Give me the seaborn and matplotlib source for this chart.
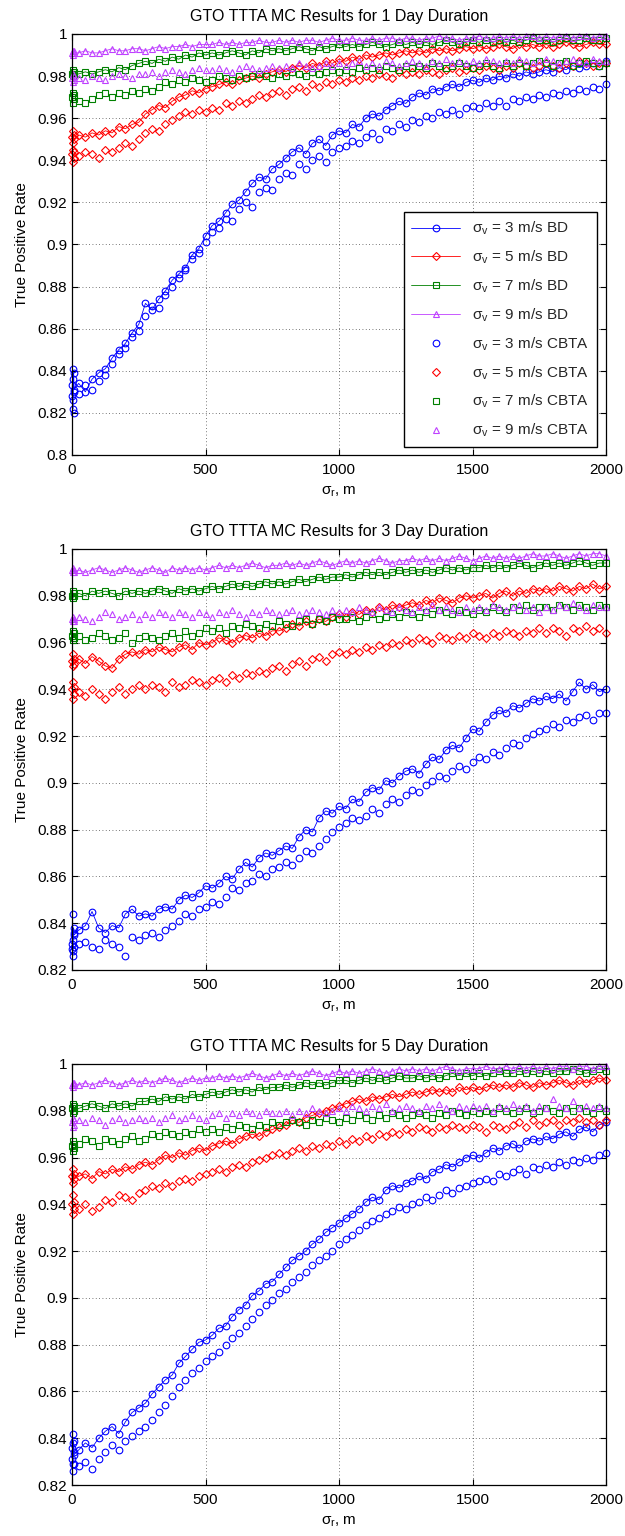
import matplotlib
matplotlib.use('Agg')
import matplotlib.pyplot as plt
from matplotlib.ticker import FuncFormatter
import seaborn as sns

# sigma_r grid: a few runs right at zero, then every 25 m
sigma_r = [0, 2, 4, 6, 8] + list(range(25, 2001, 25))

# ---------------- 1 day ----------------
day1_bd_3 = [0.828, 0.836, 0.822, 0.839, 0.831,
             0.834, 0.830, 0.836, 0.839, 0.841, 0.846, 0.850, 0.853, 0.858, 0.862,
             0.872, 0.869, 0.874, 0.878, 0.883, 0.886, 0.889, 0.895, 0.898, 0.904,
             0.909, 0.911, 0.915, 0.919, 0.921, 0.925, 0.929, 0.932, 0.931, 0.936,
             0.938, 0.941, 0.944, 0.946, 0.943, 0.948, 0.950, 0.947, 0.952, 0.954,
             0.953, 0.957, 0.956, 0.960, 0.962, 0.961, 0.964, 0.966, 0.968, 0.967,
             0.970, 0.972, 0.971, 0.974, 0.973, 0.975, 0.976, 0.975, 0.977, 0.978,
             0.977, 0.979, 0.978, 0.980, 0.979, 0.981, 0.980, 0.982, 0.981, 0.982,
             0.983, 0.982, 0.984, 0.983, 0.985, 0.984, 0.985, 0.986, 0.985, 0.987]
day1_bd_5 = [0.951, 0.954, 0.948, 0.952, 0.950,
             0.952, 0.951, 0.953, 0.952, 0.954, 0.953, 0.956, 0.955, 0.957, 0.958,
             0.962, 0.964, 0.966, 0.965, 0.968, 0.970, 0.971, 0.973, 0.972, 0.974,
             0.975, 0.976, 0.977, 0.976, 0.978, 0.979, 0.980, 0.979, 0.981, 0.982,
             0.983, 0.982, 0.984, 0.985, 0.984, 0.986, 0.985, 0.987, 0.986, 0.988,
             0.987, 0.989, 0.988, 0.990, 0.989, 0.990, 0.991, 0.990, 0.991, 0.992,
             0.991, 0.992, 0.991, 0.993, 0.992, 0.993, 0.992, 0.993, 0.994, 0.993,
             0.994, 0.993, 0.994, 0.995, 0.994, 0.993, 0.995, 0.994, 0.995, 0.994,
             0.995, 0.994, 0.995, 0.996, 0.995, 0.994, 0.995, 0.996, 0.995, 0.995]
day1_bd_7 = [0.981, 0.983, 0.980, 0.982, 0.981,
             0.981, 0.982, 0.981, 0.982, 0.983, 0.982, 0.984, 0.983, 0.985, 0.986,
             0.987, 0.986, 0.988, 0.987, 0.989, 0.988, 0.990, 0.989, 0.991, 0.990,
             0.991, 0.990, 0.991, 0.992, 0.991, 0.990, 0.992, 0.991, 0.993, 0.992,
             0.993, 0.992, 0.993, 0.994, 0.993, 0.992, 0.994, 0.993, 0.994, 0.995,
             0.994, 0.995, 0.994, 0.995, 0.996, 0.995, 0.994, 0.995, 0.996, 0.995,
             0.996, 0.995, 0.996, 0.995, 0.996, 0.997, 0.996, 0.995, 0.996, 0.997,
             0.996, 0.997, 0.996, 0.997, 0.996, 0.997, 0.996, 0.997, 0.998, 0.997,
             0.997, 0.996, 0.997, 0.998, 0.997, 0.997, 0.998, 0.997, 0.997, 0.998]
day1_bd_9 = [0.991, 0.992, 0.990, 0.992, 0.991,
             0.991, 0.992, 0.991, 0.991, 0.992, 0.993, 0.992, 0.992, 0.993, 0.993,
             0.992, 0.993, 0.994, 0.993, 0.994, 0.994, 0.995, 0.994, 0.995, 0.995,
             0.995, 0.996, 0.995, 0.996, 0.995, 0.996, 0.996, 0.997, 0.996, 0.996,
             0.997, 0.996, 0.997, 0.996, 0.997, 0.997, 0.996, 0.997, 0.998, 0.997,
             0.997, 0.998, 0.997, 0.997, 0.998, 0.997, 0.998, 0.998, 0.997, 0.998,
             0.998, 0.997, 0.998, 0.998, 0.999, 0.998, 0.998, 0.997, 0.998, 0.998,
             0.999, 0.998, 0.998, 0.999, 0.998, 0.999, 0.998, 0.999, 0.999, 0.998,
             0.999, 0.998, 0.999, 0.999, 0.998, 0.999, 0.999, 0.998, 0.999, 0.999]
day1_cbta_3 = [0.833, 0.826, 0.841, 0.820, 0.830,
               0.829, 0.833, 0.831, 0.835, 0.838, 0.843, 0.848, 0.851, 0.856, 0.859,
               0.866, 0.871, 0.870, 0.876, 0.880, 0.884, 0.888, 0.893, 0.896, 0.901,
               0.906, 0.908, 0.912, 0.911, 0.917, 0.920, 0.918, 0.925, 0.927, 0.926,
               0.931, 0.934, 0.933, 0.938, 0.936, 0.940, 0.942, 0.939, 0.944, 0.946,
               0.947, 0.949, 0.948, 0.951, 0.953, 0.950, 0.955, 0.954, 0.957, 0.956,
               0.959, 0.958, 0.961, 0.960, 0.963, 0.962, 0.964, 0.962, 0.965, 0.966,
               0.965, 0.967, 0.966, 0.968, 0.966, 0.969, 0.968, 0.970, 0.969, 0.971,
               0.970, 0.972, 0.971, 0.973, 0.972, 0.974, 0.973, 0.975, 0.974, 0.976]
day1_cbta_5 = [0.943, 0.939, 0.945, 0.941, 0.944,
               0.942, 0.944, 0.943, 0.941, 0.945, 0.944, 0.946, 0.948, 0.947, 0.950,
               0.953, 0.955, 0.954, 0.957, 0.959, 0.961, 0.963, 0.962, 0.964, 0.963,
               0.965, 0.964, 0.967, 0.966, 0.968, 0.967, 0.969, 0.971, 0.970, 0.972,
               0.973, 0.971, 0.974, 0.975, 0.973, 0.976, 0.975, 0.977, 0.976, 0.978,
               0.977, 0.979, 0.978, 0.980, 0.979, 0.981, 0.980, 0.979, 0.982, 0.981,
               0.982, 0.981, 0.983, 0.982, 0.981, 0.983, 0.984, 0.982, 0.983, 0.984,
               0.983, 0.985, 0.984, 0.983, 0.985, 0.984, 0.986, 0.985, 0.984, 0.985,
               0.986, 0.985, 0.984, 0.986, 0.985, 0.987, 0.986, 0.985, 0.986, 0.986]
day1_cbta_7 = [0.970, 0.967, 0.972, 0.969, 0.971,
               0.968, 0.967, 0.969, 0.971, 0.972, 0.970, 0.972, 0.971, 0.973, 0.972,
               0.974, 0.973, 0.975, 0.977, 0.976, 0.978, 0.977, 0.979, 0.978, 0.977,
               0.978, 0.980, 0.979, 0.978, 0.980, 0.979, 0.980, 0.981, 0.980, 0.979,
               0.981, 0.980, 0.982, 0.981, 0.980, 0.982, 0.981, 0.982, 0.983, 0.982,
               0.983, 0.982, 0.984, 0.983, 0.984, 0.983, 0.985, 0.984, 0.983, 0.985,
               0.984, 0.985, 0.984, 0.986, 0.985, 0.984, 0.985, 0.986, 0.985, 0.984,
               0.985, 0.986, 0.985, 0.984, 0.986, 0.985, 0.986, 0.985, 0.986, 0.987,
               0.986, 0.985, 0.986, 0.987, 0.985, 0.986, 0.987, 0.986, 0.985, 0.986]
day1_cbta_9 = [0.979, 0.981, 0.977, 0.980, 0.978,
               0.979, 0.978, 0.980, 0.979, 0.978, 0.980, 0.981, 0.980, 0.979, 0.981,
               0.981, 0.982, 0.980, 0.982, 0.983, 0.982, 0.981, 0.983, 0.984, 0.983,
               0.983, 0.984, 0.983, 0.982, 0.984, 0.985, 0.984, 0.983, 0.984, 0.985,
               0.984, 0.985, 0.984, 0.986, 0.985, 0.984, 0.985, 0.986, 0.985, 0.986,
               0.985, 0.986, 0.987, 0.985, 0.986, 0.985, 0.987, 0.986, 0.985, 0.986,
               0.987, 0.986, 0.985, 0.987, 0.986, 0.988, 0.986, 0.987, 0.986, 0.987,
               0.986, 0.988, 0.987, 0.986, 0.987, 0.986, 0.988, 0.987, 0.986, 0.987,
               0.988, 0.987, 0.986, 0.987, 0.988, 0.987, 0.986, 0.988, 0.987, 0.987]

# ---------------- 3 day ----------------
day3_bd_3 = [0.831, 0.844, 0.828, 0.838, 0.835,
             0.837, 0.839, 0.845, 0.838, 0.836, 0.839, 0.838, 0.844, 0.846, 0.843,
             0.844, 0.843, 0.846, 0.847, 0.846, 0.850, 0.852, 0.851, 0.853, 0.856,
             0.855, 0.857, 0.860, 0.859, 0.863, 0.866, 0.864, 0.868, 0.870, 0.869,
             0.871, 0.873, 0.872, 0.877, 0.880, 0.879, 0.885, 0.888, 0.887, 0.890,
             0.889, 0.893, 0.892, 0.896, 0.898, 0.897, 0.901, 0.900, 0.903, 0.905,
             0.906, 0.904, 0.908, 0.911, 0.910, 0.914, 0.916, 0.915, 0.919, 0.923,
             0.922, 0.926, 0.929, 0.931, 0.930, 0.933, 0.932, 0.934, 0.936, 0.935,
             0.937, 0.936, 0.938, 0.935, 0.939, 0.943, 0.940, 0.942, 0.939, 0.940]
day3_bd_5 = [0.952, 0.955, 0.950, 0.953, 0.951,
             0.953, 0.951, 0.954, 0.952, 0.950, 0.949, 0.953, 0.955, 0.956, 0.955,
             0.957, 0.956, 0.958, 0.957, 0.956, 0.958, 0.959, 0.957, 0.960, 0.959,
             0.960, 0.962, 0.961, 0.960, 0.962, 0.963, 0.962, 0.964, 0.963, 0.965,
             0.965, 0.966, 0.968, 0.967, 0.969, 0.968, 0.970, 0.969, 0.971, 0.972,
             0.971, 0.973, 0.972, 0.974, 0.973, 0.975, 0.974, 0.976, 0.975, 0.976,
             0.977, 0.976, 0.978, 0.977, 0.979, 0.978, 0.977, 0.979, 0.980, 0.979,
             0.980, 0.981, 0.979, 0.981, 0.982, 0.980, 0.982, 0.981, 0.983, 0.982,
             0.983, 0.982, 0.984, 0.983, 0.982, 0.984, 0.983, 0.985, 0.983, 0.984]
day3_bd_7 = [0.980, 0.982, 0.979, 0.981, 0.980,
             0.981, 0.980, 0.982, 0.981, 0.982, 0.981, 0.980, 0.982, 0.981, 0.982,
             0.981, 0.982, 0.983, 0.982, 0.981, 0.983, 0.982, 0.983, 0.982, 0.983,
             0.984, 0.983, 0.984, 0.985, 0.984, 0.985, 0.984, 0.985, 0.986, 0.985,
             0.986, 0.985, 0.986, 0.987, 0.986, 0.987, 0.988, 0.987, 0.988, 0.988,
             0.989, 0.988, 0.989, 0.990, 0.989, 0.990, 0.989, 0.990, 0.991, 0.990,
             0.991, 0.990, 0.991, 0.990, 0.991, 0.992, 0.991, 0.992, 0.991, 0.992,
             0.992, 0.993, 0.992, 0.993, 0.992, 0.993, 0.994, 0.993, 0.992, 0.993,
             0.994, 0.993, 0.994, 0.993, 0.994, 0.995, 0.994, 0.993, 0.994, 0.994]
day3_bd_9 = [0.991, 0.990, 0.992, 0.991, 0.990,
             0.991, 0.990, 0.991, 0.992, 0.991, 0.990, 0.991, 0.992, 0.991, 0.990,
             0.991, 0.992, 0.991, 0.990, 0.992, 0.991, 0.992, 0.991, 0.992, 0.991,
             0.992, 0.993, 0.992, 0.993, 0.992, 0.993, 0.994, 0.993, 0.992, 0.993,
             0.993, 0.994, 0.993, 0.994, 0.993, 0.994, 0.995, 0.994, 0.993, 0.994,
             0.995, 0.994, 0.995, 0.994, 0.995, 0.996, 0.995, 0.994, 0.995, 0.995,
             0.996, 0.995, 0.996, 0.995, 0.996, 0.995, 0.996, 0.997, 0.996, 0.995,
             0.996, 0.997, 0.996, 0.997, 0.996, 0.997, 0.996, 0.997, 0.998, 0.997,
             0.997, 0.998, 0.997, 0.996, 0.997, 0.998, 0.997, 0.998, 0.998, 0.997]
day3_cbta_3 = [0.829, 0.833, 0.826, 0.836, 0.830,
               0.831, 0.832, 0.830, 0.829, 0.833, 0.831, 0.830, 0.826, 0.834, 0.833,
               0.835, 0.836, 0.834, 0.837, 0.839, 0.841, 0.844, 0.843, 0.846, 0.847,
               0.849, 0.848, 0.851, 0.855, 0.854, 0.857, 0.858, 0.861, 0.860, 0.863,
               0.864, 0.866, 0.865, 0.868, 0.871, 0.870, 0.873, 0.876, 0.879, 0.881,
               0.883, 0.885, 0.884, 0.886, 0.889, 0.887, 0.891, 0.893, 0.892, 0.895,
               0.897, 0.896, 0.899, 0.901, 0.903, 0.902, 0.905, 0.907, 0.906, 0.909,
               0.911, 0.910, 0.913, 0.912, 0.915, 0.917, 0.916, 0.919, 0.921, 0.922,
               0.923, 0.925, 0.924, 0.927, 0.926, 0.928, 0.929, 0.927, 0.930, 0.930]
day3_cbta_5 = [0.940, 0.936, 0.943, 0.938, 0.941,
               0.939, 0.937, 0.940, 0.938, 0.936, 0.939, 0.941, 0.938, 0.940, 0.942,
               0.940, 0.942, 0.941, 0.939, 0.943, 0.941, 0.942, 0.944, 0.943, 0.942,
               0.944, 0.945, 0.943, 0.946, 0.945, 0.947, 0.946, 0.948, 0.947, 0.949,
               0.950, 0.948, 0.951, 0.952, 0.950, 0.953, 0.954, 0.952, 0.955, 0.956,
               0.955, 0.957, 0.956, 0.958, 0.957, 0.959, 0.958, 0.960, 0.959, 0.961,
               0.960, 0.962, 0.961, 0.960, 0.963, 0.962, 0.961, 0.963, 0.962, 0.964,
               0.963, 0.962, 0.964, 0.963, 0.965, 0.964, 0.963, 0.965, 0.964, 0.966,
               0.964, 0.966, 0.965, 0.963, 0.966, 0.965, 0.967, 0.965, 0.966, 0.964]
day3_cbta_7 = [0.963, 0.961, 0.965, 0.962, 0.964,
               0.963, 0.961, 0.962, 0.964, 0.963, 0.961, 0.962, 0.964, 0.960, 0.962,
               0.963, 0.962, 0.961, 0.963, 0.964, 0.962, 0.965, 0.963, 0.964, 0.966,
               0.965, 0.966, 0.964, 0.967, 0.966, 0.968, 0.967, 0.966, 0.968, 0.967,
               0.969, 0.968, 0.967, 0.969, 0.970, 0.968, 0.970, 0.969, 0.971, 0.970,
               0.970, 0.971, 0.969, 0.971, 0.972, 0.970, 0.971, 0.972, 0.971, 0.973,
               0.972, 0.971, 0.973, 0.972, 0.974, 0.973, 0.972, 0.974, 0.973, 0.972,
               0.974, 0.973, 0.975, 0.974, 0.973, 0.975, 0.974, 0.976, 0.974, 0.975,
               0.975, 0.974, 0.976, 0.975, 0.974, 0.976, 0.975, 0.974, 0.976, 0.975]
day3_cbta_9 = [0.970, 0.969, 0.971, 0.970, 0.969,
               0.971, 0.970, 0.969, 0.971, 0.973, 0.972, 0.970, 0.971, 0.972, 0.970,
               0.972, 0.971, 0.973, 0.972, 0.971, 0.973, 0.972, 0.971, 0.973, 0.972,
               0.971, 0.973, 0.972, 0.974, 0.972, 0.971, 0.973, 0.972, 0.974, 0.973,
               0.972, 0.973, 0.974, 0.972, 0.973, 0.974, 0.973, 0.972, 0.974, 0.973,
               0.974, 0.973, 0.975, 0.974, 0.973, 0.975, 0.974, 0.973, 0.975, 0.974,
               0.973, 0.975, 0.974, 0.976, 0.974, 0.975, 0.974, 0.973, 0.975, 0.974,
               0.975, 0.974, 0.976, 0.975, 0.974, 0.975, 0.976, 0.974, 0.975, 0.973,
               0.975, 0.974, 0.976, 0.975, 0.977, 0.975, 0.974, 0.976, 0.975, 0.975]

# ---------------- 5 day ----------------
day5_bd_3 = [0.836, 0.842, 0.829, 0.839, 0.833,
             0.835, 0.838, 0.836, 0.840, 0.843, 0.845, 0.842, 0.847, 0.851, 0.853,
             0.855, 0.859, 0.862, 0.865, 0.867, 0.872, 0.875, 0.878, 0.881, 0.882,
             0.884, 0.887, 0.888, 0.892, 0.895, 0.897, 0.901, 0.903, 0.906, 0.907,
             0.910, 0.913, 0.916, 0.918, 0.920, 0.923, 0.925, 0.928, 0.930, 0.932,
             0.934, 0.936, 0.938, 0.941, 0.943, 0.942, 0.946, 0.948, 0.947, 0.949,
             0.950, 0.952, 0.951, 0.954, 0.955, 0.957, 0.956, 0.958, 0.960, 0.961,
             0.960, 0.962, 0.964, 0.963, 0.965, 0.966, 0.964, 0.967, 0.968, 0.967,
             0.969, 0.968, 0.970, 0.971, 0.969, 0.972, 0.973, 0.971, 0.974, 0.975]
day5_bd_5 = [0.952, 0.955, 0.949, 0.953, 0.951,
             0.952, 0.953, 0.951, 0.954, 0.953, 0.955, 0.954, 0.956, 0.955, 0.957,
             0.958, 0.957, 0.959, 0.961, 0.960, 0.962, 0.961, 0.963, 0.964, 0.963,
             0.965, 0.966, 0.967, 0.966, 0.968, 0.969, 0.970, 0.969, 0.971, 0.972,
             0.973, 0.974, 0.976, 0.975, 0.977, 0.978, 0.979, 0.980, 0.981, 0.982,
             0.983, 0.984, 0.985, 0.984, 0.986, 0.985, 0.986, 0.987, 0.986, 0.987,
             0.988, 0.987, 0.988, 0.989, 0.988, 0.989, 0.988, 0.990, 0.989, 0.990,
             0.989, 0.990, 0.991, 0.990, 0.991, 0.990, 0.992, 0.991, 0.990, 0.992,
             0.991, 0.992, 0.993, 0.992, 0.991, 0.993, 0.992, 0.993, 0.994, 0.993]
day5_bd_7 = [0.981, 0.983, 0.979, 0.982, 0.980,
             0.981, 0.982, 0.983, 0.982, 0.981, 0.983, 0.982, 0.983, 0.982, 0.984,
             0.984, 0.985, 0.984, 0.986, 0.985, 0.986, 0.985, 0.987, 0.986, 0.987,
             0.988, 0.987, 0.988, 0.989, 0.988, 0.989, 0.988, 0.990, 0.989, 0.990,
             0.990, 0.991, 0.990, 0.991, 0.992, 0.991, 0.992, 0.991, 0.992, 0.993,
             0.993, 0.992, 0.993, 0.994, 0.993, 0.994, 0.993, 0.994, 0.995, 0.994,
             0.994, 0.995, 0.994, 0.995, 0.994, 0.995, 0.996, 0.995, 0.996, 0.995,
             0.996, 0.995, 0.996, 0.997, 0.996, 0.996, 0.997, 0.996, 0.997, 0.996,
             0.997, 0.996, 0.997, 0.997, 0.998, 0.997, 0.996, 0.997, 0.998, 0.997]
day5_bd_9 = [0.991, 0.992, 0.990, 0.991, 0.992,
             0.991, 0.992, 0.991, 0.992, 0.993, 0.992, 0.991, 0.992, 0.993, 0.992,
             0.993, 0.992, 0.993, 0.994, 0.993, 0.992, 0.993, 0.994, 0.993, 0.994,
             0.994, 0.995, 0.994, 0.995, 0.994, 0.995, 0.996, 0.995, 0.994, 0.995,
             0.996, 0.995, 0.996, 0.995, 0.996, 0.997, 0.996, 0.995, 0.996, 0.997,
             0.996, 0.997, 0.996, 0.997, 0.998, 0.997, 0.996, 0.997, 0.998, 0.997,
             0.998, 0.997, 0.998, 0.997, 0.998, 0.999, 0.998, 0.997, 0.998, 0.998,
             0.998, 0.999, 0.998, 0.998, 0.999, 0.998, 0.999, 0.998, 0.999, 0.998,
             0.999, 0.998, 0.999, 0.999, 0.998, 0.999, 0.999, 0.998, 0.999, 0.999]
day5_cbta_3 = [0.831, 0.838, 0.826, 0.834, 0.829,
               0.828, 0.830, 0.827, 0.831, 0.834, 0.837, 0.835, 0.839, 0.841, 0.843,
               0.845, 0.848, 0.851, 0.854, 0.858, 0.862, 0.865, 0.868, 0.870, 0.873,
               0.875, 0.877, 0.880, 0.883, 0.885, 0.888, 0.891, 0.894, 0.897, 0.899,
               0.902, 0.904, 0.907, 0.909, 0.911, 0.914, 0.916, 0.918, 0.920, 0.923,
               0.925, 0.927, 0.929, 0.931, 0.933, 0.934, 0.936, 0.937, 0.939, 0.938,
               0.940, 0.941, 0.943, 0.942, 0.944, 0.946, 0.945, 0.947, 0.948, 0.949,
               0.950, 0.951, 0.950, 0.953, 0.952, 0.954, 0.955, 0.953, 0.956, 0.955,
               0.957, 0.956, 0.958, 0.957, 0.959, 0.958, 0.960, 0.959, 0.961, 0.962]
day5_cbta_5 = [0.940, 0.936, 0.944, 0.938, 0.941,
               0.938, 0.940, 0.937, 0.939, 0.942, 0.941, 0.944, 0.943, 0.942, 0.945,
               0.946, 0.948, 0.947, 0.949, 0.948, 0.950, 0.951, 0.950, 0.952, 0.953,
               0.954, 0.955, 0.954, 0.956, 0.957, 0.956, 0.958, 0.959, 0.960, 0.961,
               0.962, 0.961, 0.963, 0.964, 0.963, 0.965, 0.964, 0.966, 0.965, 0.967,
               0.966, 0.968, 0.967, 0.969, 0.968, 0.970, 0.969, 0.971, 0.970, 0.972,
               0.971, 0.973, 0.972, 0.971, 0.973, 0.972, 0.974, 0.973, 0.972, 0.974,
               0.973, 0.971, 0.974, 0.973, 0.972, 0.974, 0.975, 0.973, 0.976, 0.974,
               0.975, 0.976, 0.974, 0.976, 0.975, 0.977, 0.975, 0.976, 0.974, 0.976]
day5_cbta_7 = [0.965, 0.963, 0.967, 0.964, 0.966,
               0.966, 0.968, 0.967, 0.965, 0.968, 0.967, 0.966, 0.968, 0.969, 0.967,
               0.968, 0.970, 0.969, 0.971, 0.970, 0.969, 0.971, 0.970, 0.972, 0.971,
               0.972, 0.971, 0.973, 0.972, 0.974, 0.973, 0.972, 0.974, 0.973, 0.975,
               0.974, 0.975, 0.976, 0.975, 0.974, 0.976, 0.975, 0.977, 0.976, 0.975,
               0.977, 0.976, 0.978, 0.977, 0.976, 0.978, 0.977, 0.979, 0.978, 0.977,
               0.978, 0.979, 0.978, 0.977, 0.979, 0.978, 0.980, 0.979, 0.978, 0.980,
               0.979, 0.980, 0.979, 0.981, 0.980, 0.979, 0.980, 0.981, 0.979, 0.980,
               0.981, 0.980, 0.979, 0.981, 0.980, 0.981, 0.980, 0.979, 0.981, 0.980]
day5_cbta_9 = [0.975, 0.973, 0.977, 0.974, 0.976,
               0.976, 0.975, 0.977, 0.976, 0.974, 0.976, 0.977, 0.975, 0.976, 0.977,
               0.976, 0.977, 0.975, 0.977, 0.978, 0.976, 0.977, 0.978, 0.977, 0.976,
               0.978, 0.979, 0.977, 0.979, 0.978, 0.980, 0.979, 0.978, 0.980, 0.979,
               0.979, 0.980, 0.978, 0.980, 0.979, 0.981, 0.980, 0.979, 0.980, 0.981,
               0.980, 0.982, 0.981, 0.980, 0.982, 0.981, 0.983, 0.980, 0.981, 0.982,
               0.981, 0.980, 0.982, 0.981, 0.983, 0.981, 0.980, 0.982, 0.981, 0.982,
               0.981, 0.982, 0.980, 0.982, 0.981, 0.983, 0.981, 0.982, 0.980, 0.982,
               0.981, 0.985, 0.982, 0.981, 0.984, 0.981, 0.982, 0.981, 0.982, 0.981]

sigma_v = [3, 5, 7, 9]
titles = ['GTO TTTA MC Results for 1 Day Duration',
          'GTO TTTA MC Results for 3 Day Duration',
          'GTO TTTA MC Results for 5 Day Duration']
y_ticks_day1 = [0.8, 0.82, 0.84, 0.86, 0.88, 0.9, 0.92, 0.94, 0.96, 0.98, 1.0]
y_ticks_rest = [0.82, 0.84, 0.86, 0.88, 0.9, 0.92, 0.94, 0.96, 0.98, 1.0]
x_ticks = [0, 500, 1000, 1500, 2000]

panels = [
    ({3: day1_bd_3, 5: day1_bd_5, 7: day1_bd_7, 9: day1_bd_9},
     {3: day1_cbta_3, 5: day1_cbta_5, 7: day1_cbta_7, 9: day1_cbta_9}, y_ticks_day1),
    ({3: day3_bd_3, 5: day3_bd_5, 7: day3_bd_7, 9: day3_bd_9},
     {3: day3_cbta_3, 5: day3_cbta_5, 7: day3_cbta_7, 9: day3_cbta_9}, y_ticks_rest),
    ({3: day5_bd_3, 5: day5_bd_5, 7: day5_bd_7, 9: day5_bd_9},
     {3: day5_cbta_3, 5: day5_cbta_5, 7: day5_cbta_7, 9: day5_cbta_9}, y_ticks_rest),
]

colors = {3: '#0000ff', 5: '#ff0000', 7: '#008000', 9: '#bf40ff'}
markers = {3: 'o', 5: 'D', 7: 's', 9: '^'}
msizes = {3: 4.8, 5: 3.9, 7: 4.2, 9: 4.8}

sns.set_style('ticks')
plt.rcParams['font.family'] = ['Liberation Sans', 'DejaVu Sans']
plt.rcParams['mathtext.fontset'] = 'custom'
plt.rcParams['mathtext.rm'] = 'Liberation Sans'
plt.rcParams['mathtext.it'] = 'Liberation Sans:italic'

fig = plt.figure(figsize=(6.25, 15.36), dpi=100)
bottoms = [0.7038, 0.3685, 0.0332]

for i, (bd, cbta, yt) in enumerate(panels):
    ax = fig.add_axes([0.1152, bottoms[i], 0.8544, 0.2741])
    for v in sigma_v:
        kw = {'label': f'σ$_\\mathrm{{v}}$ = {v} m/s BD'} if i == 0 else {}
        sns.lineplot(x=sigma_r, y=bd[v], ax=ax, color=colors[v], linewidth=0.6,
                     marker=markers[v], markersize=msizes[v], markerfacecolor='none',
                     markeredgecolor=colors[v], markeredgewidth=0.8, clip_on=False, **kw)
    for v in sigma_v:
        kw = {'label': f'σ$_\\mathrm{{v}}$ = {v} m/s CBTA'} if i == 0 else {}
        sns.lineplot(x=sigma_r, y=cbta[v], ax=ax, color=colors[v], linestyle='none',
                     marker=markers[v], markersize=msizes[v], markerfacecolor='none',
                     markeredgecolor=colors[v], markeredgewidth=0.8, clip_on=False, **kw)

    ax.set_xlim(0, 2000)
    ax.set_ylim(yt[0], yt[-1])
    ax.set_xticks(x_ticks)
    ax.set_yticks(yt)
    ax.yaxis.set_major_formatter(FuncFormatter(lambda val, pos: f'{val:g}'))
    ax.grid(True, color='black', linestyle=(0, (1, 3)), linewidth=0.6, alpha=0.7)
    ax.tick_params(direction='in', top=True, right=True, length=4, width=0.8,
                   labelsize=11, colors='black')
    ax.tick_params(axis='x', pad=6)
    for s in ax.spines.values():
        s.set_color('black')
        s.set_linewidth(0.9)
    ax.set_title(titles[i], fontsize=11.5, pad=9, color='black')
    ax.set_xlabel('σ$_\\mathrm{r}$, m', fontsize=11, color='black', labelpad=5)
    ax.set_ylabel('True Positive Rate', fontsize=11, color='black', labelpad=6)

    if i == 0:
        ax.legend(loc='lower right', bbox_to_anchor=(0.983, 0.019), borderaxespad=0,
                  frameon=True, fancybox=False, edgecolor='black', framealpha=1,
                  fontsize=11, labelspacing=0.75, handlelength=3.2, borderpad=0.5)
    elif ax.get_legend() is not None:
        ax.get_legend().remove()

fig.savefig('out.png', dpi=100)
